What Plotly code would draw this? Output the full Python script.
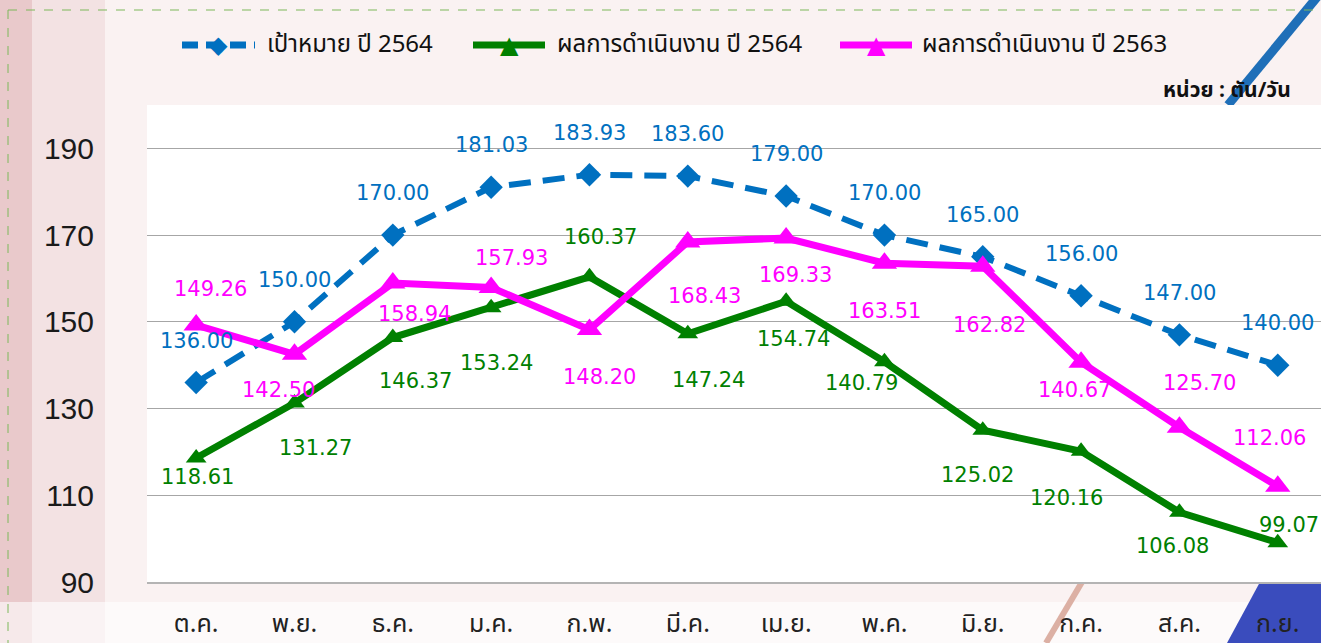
import plotly.graph_objects as go

months = ["ต.ค.", "พ.ย.", "ธ.ค.", "ม.ค.", "ก.พ.", "มี.ค.",
          "เม.ย.", "พ.ค.", "มิ.ย.", "ก.ค.", "ส.ค.", "ก.ย."]

target_2564 = [136.00, 150.00, 170.00, 181.03, 183.93, 183.60,
               179.00, 170.00, 165.00, 156.00, 147.00, 140.00]
actual_2564 = [118.61, 131.27, 146.37, 153.24, 160.37, 147.24,
               154.74, 140.79, 125.02, 120.16, 106.08, 99.07]
actual_2563 = [149.26, 142.50, 158.94, 157.93, 148.20, 168.43,
               169.33, 163.51, 162.82, 140.67, 125.70, 112.06]

name_target = "เป้าหมาย ปี 2564"
name_2564 = "ผลการดำเนินงาน ปี 2564"
name_2563 = "ผลการดำเนินงาน ปี 2563"
unit_text = "หน่วย : ตัน/วัน"

BLUE = "#0070C0"
GREEN = "#008000"
MAGENTA = "#FF00FF"

# label offsets in pixels (dx right, dy down)
off_target = [(0, -42)] * 12
off_2564 = [(1, 19), (21, 45), (23, 43), (5, 55), (11, -40), (21, 46),
            (7, 38), (-23, 21), (-5, 45), (-15, 47), (-7, 34), (11, -18)]
off_2563 = [(14, -36), (-16, 36), (22, 31), (20, -29), (10, 47), (17, 54),
            (9, 37), (0, 48), (7, 59), (-7, 28), (20, -44), (-8, -48)]

# plot area in pixels
L, R, T, B = 147, 1321, 105, 582
W, H = 1321, 643


def px(x):
    return (x - L) / (R - L)


def py(y):
    return (B - y) / (B - T)


THAI = "Noto Sans Thai, Noto Sans, DejaVu Sans, sans-serif"
LABEL_FONT = "DejaVu Sans, Verdana, sans-serif"

fig = go.Figure()

fig.add_trace(go.Scatter(
    x=months, y=target_2564, name=name_target, mode="lines+markers",
    line=dict(color=BLUE, width=6, dash="22px,12px"),
    marker=dict(symbol="diamond", size=18, color=BLUE),
))
fig.add_trace(go.Scatter(
    x=months, y=actual_2564, name=name_2564, mode="lines+markers",
    line=dict(color=GREEN, width=7),
    marker=dict(symbol="triangle-up", size=18, color=GREEN),
))
fig.add_trace(go.Scatter(
    x=months, y=actual_2563, name=name_2563, mode="lines+markers",
    line=dict(color=MAGENTA, width=7),
    marker=dict(symbol="triangle-up", size=22, color=MAGENTA),
))

annotations = []
for values, offs, color in [(target_2564, off_target, BLUE),
                            (actual_2564, off_2564, GREEN),
                            (actual_2563, off_2563, MAGENTA)]:
    for m, v, (dx, dy) in zip(months, values, offs):
        annotations.append(dict(
            x=m, y=v, text=f"{v:.2f}", showarrow=False,
            xshift=dx, yshift=-dy,
            font=dict(family=LABEL_FONT, size=21, color=color),
        ))

annotations.append(dict(
    xref="paper", yref="paper", x=px(1293), y=py(90),
    xanchor="right", yanchor="middle", showarrow=False,
    text=f"<b>{unit_text}</b>",
    font=dict(family=THAI, size=21, color="#111111"),
))

# background decoration
shapes = [
    dict(type="rect", xref="paper", yref="paper", layer="below",
         x0=px(0), x1=px(W), y0=py(H), y1=py(0),
         fillcolor="#faf2f2", line=dict(width=0)),
    dict(type="rect", xref="paper", yref="paper", layer="below",
         x0=px(0), x1=px(32), y0=py(H), y1=py(0),
         fillcolor="#e9c9cb", line=dict(width=0)),
    dict(type="rect", xref="paper", yref="paper", layer="below",
         x0=px(32), x1=px(105), y0=py(H), y1=py(0),
         fillcolor="#f3e2e3", line=dict(width=0)),
    dict(type="rect", xref="paper", yref="paper", layer="below",
         x0=px(0), x1=px(W), y0=py(H), y1=py(B + 20),
         fillcolor="rgba(255,255,255,0.6)", line=dict(width=0)),
    dict(type="path", xref="paper", yref="paper", layer="below",
         path=f"M {px(1260)} {py(B)} L {px(1330)} {py(B)} "
              f"L {px(1330)} {py(H)} L {px(1227)} {py(H)} Z",
         fillcolor="#3a4cbd", line=dict(width=0)),
    dict(type="line", xref="paper", yref="paper", layer="below",
         x0=px(1082), y0=py(B), x1=px(1046), y1=py(H),
         line=dict(color="#dcb0a4", width=6)),
    dict(type="line", xref="paper", yref="paper", layer="below",
         x0=px(1318), y0=py(-4), x1=px(1228), y1=py(T),
         line=dict(color="#1f6fb8", width=9)),
    dict(type="line", xref="paper", yref="paper", layer="below",
         x0=px(8), y0=py(10), x1=px(W), y1=py(10),
         line=dict(color="#7cb85a", width=1, dash="dash")),
    dict(type="line", xref="paper", yref="paper", layer="below",
         x0=px(8), y0=py(10), x1=px(8), y1=py(H),
         line=dict(color="#7cb85a", width=1, dash="dash")),
    dict(type="rect", xref="paper", yref="paper", layer="below",
         x0=0, x1=1, y0=0, y1=1,
         fillcolor="#ffffff", line=dict(width=0)),
]

# legend drawn by hand so the sample lines are as long as in the original
LEG_Y = 45
legend_items = [
    (name_target, BLUE, "dash", "◆", 182, 255, 265),
    (name_2564, GREEN, "solid", "▲", 473, 545, 555),
    (name_2563, MAGENTA, "solid", "▲", 840, 912, 920),
]
for name, color, dash, glyph, x0, x1, xt in legend_items:
    shapes.append(dict(
        type="line", xref="paper", yref="paper",
        x0=px(x0), x1=px(x1), y0=py(LEG_Y), y1=py(LEG_Y),
        line=dict(color=color, width=7,
                  dash="16px,8px" if dash == "dash" else "solid"),
    ))
    annotations.append(dict(
        xref="paper", yref="paper", x=px((x0 + x1) / 2), y=py(LEG_Y),
        xanchor="center", yanchor="middle", showarrow=False, text=glyph,
        font=dict(family="DejaVu Sans, sans-serif", size=24, color=color),
    ))
    annotations.append(dict(
        xref="paper", yref="paper", x=px(xt), y=py(LEG_Y),
        xanchor="left", yanchor="middle", showarrow=False, text=name,
        font=dict(family=THAI, size=24, color="#111111"),
    ))

fig.update_layout(
    width=W, height=H,
    margin=dict(l=L, r=W - R, t=T, b=H - B, pad=0, autoexpand=False),
    paper_bgcolor="#faf2f2",
    plot_bgcolor="#ffffff",
    showlegend=False,
    annotations=annotations,
    shapes=shapes,
)

fig.update_xaxes(
    type="category", range=[-0.5, 11.44], automargin=False,
    showgrid=False, showline=True, linecolor="#b4b4b4", linewidth=2,
    ticks="", ticklabelstandoff=18,
    tickfont=dict(family=THAI, size=25, color="#222222"),
)
fig.update_yaxes(
    range=[90, 200], tick0=90, dtick=20, automargin=False,
    showgrid=True, gridcolor="#a6a6a6", gridwidth=1,
    zeroline=False, showline=False,
    ticks="", ticklabelstandoff=52,
    tickfont=dict(family="Liberation Sans, Arial, sans-serif", size=30,
                  color="#1a1a1a"),
)

fig.write_html("out.html", config={"displayModeBar": False},
               post_script="document.body.style.margin='0';")
